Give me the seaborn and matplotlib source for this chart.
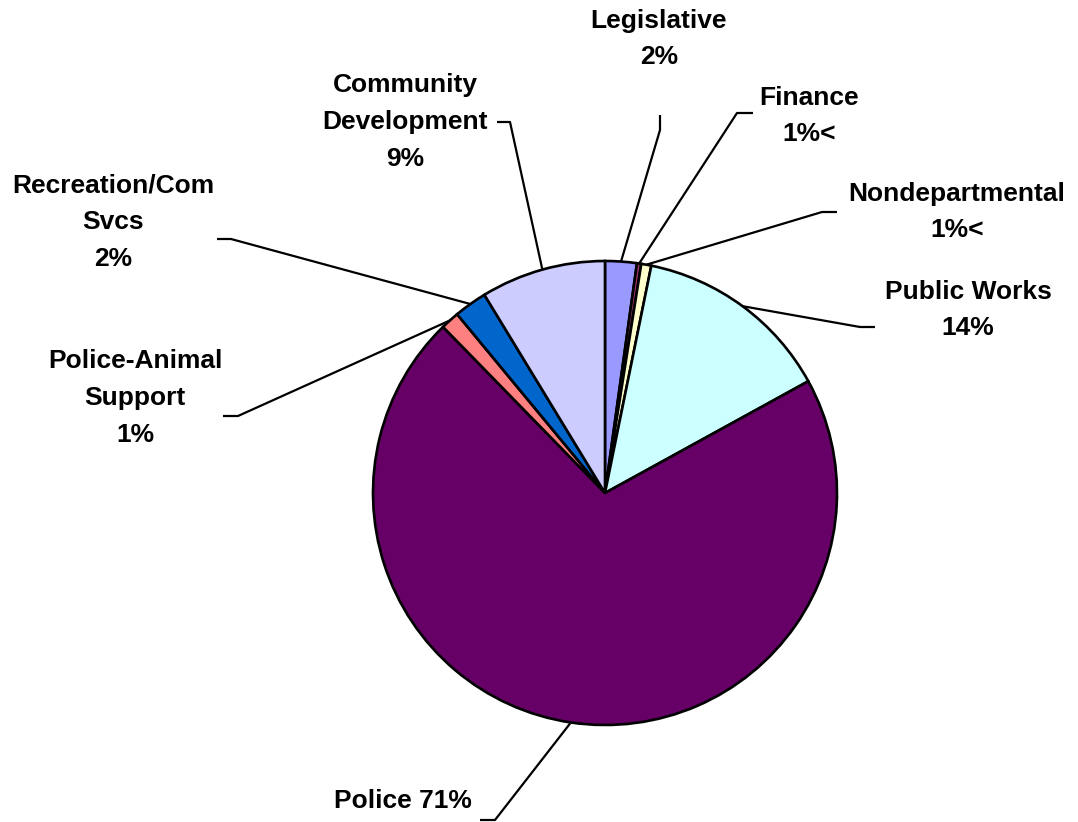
import numpy as np
import matplotlib
matplotlib.use("Agg")
import matplotlib.pyplot as plt
import seaborn as sns

# ---- data ----
departments = ["Legislative", "Finance", "Nondepartmental", "Public Works",
               "Police", "Police-Animal Support", "Recreation/Com Svcs",
               "Community Development"]
shares = [2.2, 0.3, 0.7, 13.8, 70.7, 1.3, 2.3, 8.7]
label_texts = ["Legislative\n2%", "Finance\n1%<", "Nondepartmental\n1%<",
               "Public Works\n14%", "Police 71%", "Police-Animal\nSupport\n1%",
               "Recreation/Com\nSvcs\n2%", "Community\nDevelopment\n9%"]

# ---- styles / layout ----
palette = sns.color_palette(["#9999FF", "#993366", "#FFFFCC", "#CCFFFF",
                             "#660066", "#FF8080", "#0066CC", "#CCCCFF"])
W, H = 1078, 822
center = (605, H - 493)
radius = 232
# text block centres (pixels, top-left origin)
text_pos = [(659, 39), (809, 116), (957, 212), (968, 310),
            (403, 801), (135, 398), (113, 222), (405, 122)]
# leader elbow and end points (pixels, top-left origin)
elbows = [(660, 130), (737, 113), (822, 212), (860, 327),
          (495, 820), (238, 416), (231, 239), (510, 122)]
ends = [(660, 115), (753, 113), (837, 212), (875, 327),
        (480, 820), (223, 416), (217, 239), (497, 122)]

sns.set_theme(style="white")
plt.rcParams["font.family"] = ["Liberation Sans", "DejaVu Sans"]

fig = plt.figure(figsize=(W / 100, H / 100), dpi=100)
ax = fig.add_axes([0, 0, 1, 1])
wedges, _ = ax.pie(shares, colors=palette, startangle=90, counterclock=False,
                   center=center, radius=radius,
                   wedgeprops=dict(edgecolor="black", linewidth=1.9))
ax.set_xlim(0, W)
ax.set_ylim(0, H)
ax.set_aspect("equal")
ax.axis("off")

for w, txt, tp, el, en in zip(wedges, label_texts, text_pos, elbows, ends):
    mid = np.deg2rad((w.theta1 + w.theta2) / 2)
    ax_x = center[0] + radius * np.cos(mid)
    ax_y = center[1] + radius * np.sin(mid)
    ax.plot([ax_x, el[0], en[0]], [ax_y, H - el[1], H - en[1]],
            color="black", linewidth=1.6, solid_capstyle="butt", zorder=3)
    ax.text(tp[0], H - tp[1], txt, ha="center", va="center",
            fontsize=19, fontweight="bold", linespacing=1.68, color="black")

fig.savefig("out.png", dpi=100, facecolor="white")
